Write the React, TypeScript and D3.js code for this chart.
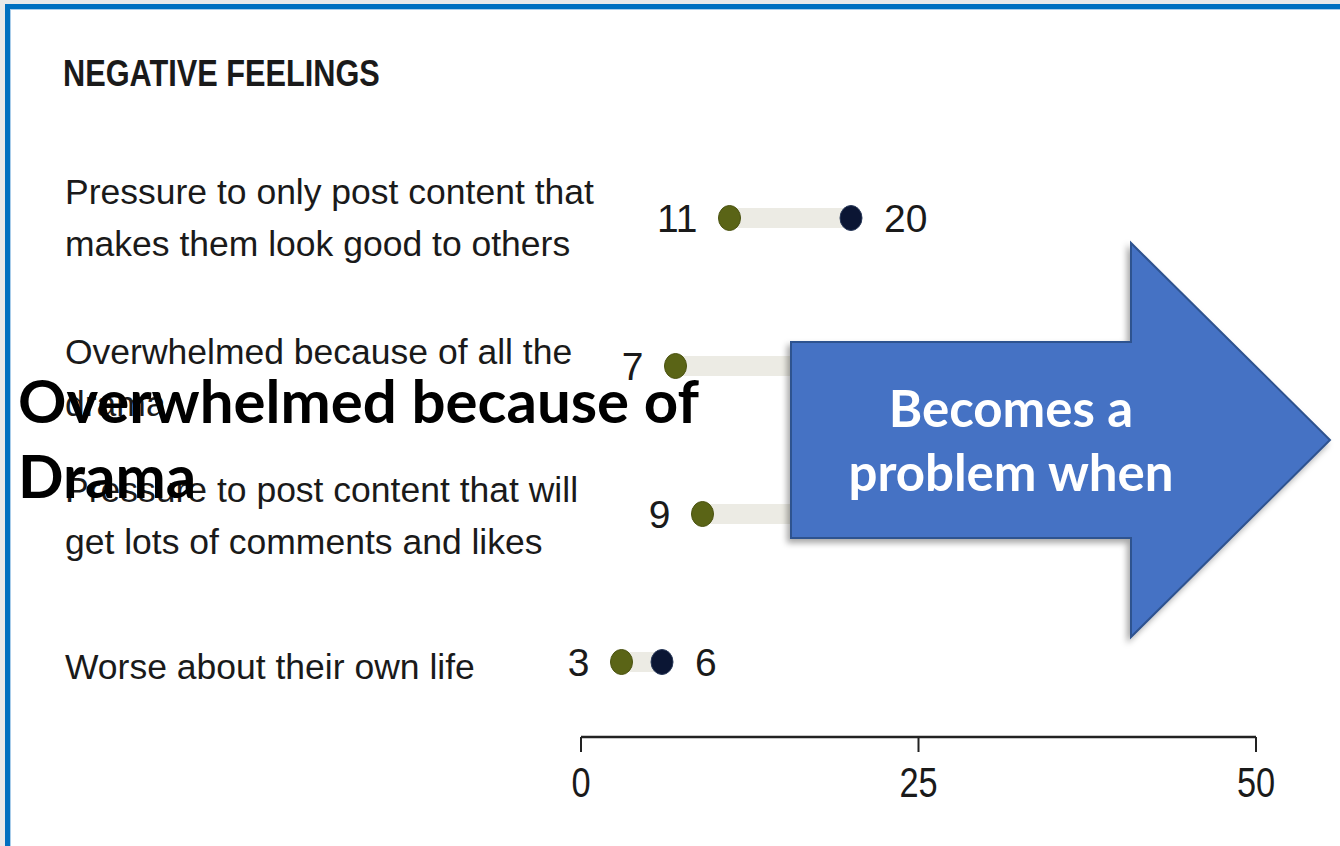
import React from "react";
import * as d3 from "d3";

const title = "NEGATIVE FEELINGS";
const categories = [
  ["Pressure to only post content that", "makes them look good to others"],
  ["Overwhelmed because of all the", "drama"],
  ["Pressure to post content that will", "get lots of comments and likes"],
  ["Worse about their own life"],
];
const seriesA = [11, 7, 9, 3];
const seriesB = [20, 24, 18, 6];
const tickValues = [0, 25, 50];
const overlayLines = ["Overwhelmed because of", "Drama"];
const arrowLines = ["Becomes a", "problem when"];

const W = 1340;
const H = 846;
const GREEN = "#5a6416";
const NAVY = "#0b1634";
const TRACK = "#ecebe4";
// small vertical nudges of the category labels relative to their row (layout only)
const LABEL_NUDGE = [0, 12, 2, 5];

export default function App() {
  const x = d3.scaleLinear().domain([0, 50]).range([581, 1256]);
  const y = d3
    .scalePoint<number>()
    .domain(categories.map((_, i) => i))
    .range([144, 736])
    .padding(0.5);

  const axisY = 737;
  const labelFont = "'Liberation Sans', Arial, sans-serif";

  // arrow geometry
  const ax0 = 791, axNeck = 1131, axTip = 1330;
  const acy = 440, bodyHalf = 98, headHalf = 197;
  const arrowPath = d3.path();
  arrowPath.moveTo(ax0, acy - bodyHalf);
  arrowPath.lineTo(axNeck, acy - bodyHalf);
  arrowPath.lineTo(axNeck, acy - headHalf);
  arrowPath.lineTo(axTip, acy);
  arrowPath.lineTo(axNeck, acy + headHalf);
  arrowPath.lineTo(axNeck, acy + bodyHalf);
  arrowPath.lineTo(ax0, acy + bodyHalf);
  arrowPath.closePath();

  return (
    <svg
      width={W}
      height={H}
      style={{ position: "absolute", left: 0, top: 0, background: "#fff" }}
    >
      <defs>
        <filter id="shadow" x="-10%" y="-10%" width="120%" height="130%">
          <feDropShadow dx="-3" dy="4" stdDeviation="3" floodColor="#000" floodOpacity="0.35" />
        </filter>
      </defs>
      {/* frame */}
      <rect x={0} y={0} width={W} height={4} fill="#e9e9e9" />
      <rect x={0} y={0} width={5} height={H} fill="#e9e9e9" />
      <rect x={5} y={4} width={W - 5} height={5} fill="#0070c0" />
      <rect x={5} y={4} width={5} height={H - 4} fill="#0070c0" />
      <rect x={10} y={9} width={W - 10} height={1} fill="#a9cdea" />
      <rect x={10} y={9} width={1} height={H - 9} fill="#a9cdea" />

      {/* title (condensed) */}
      <text
        transform="translate(63,86) scale(0.83,1)"
        fontFamily={labelFont}
        fontWeight="bold"
        fontSize={37}
        fill="#1a1a1a"
      >
        {title}
      </text>

      {/* rows */}
      {categories.map((lines, i) => {
        const cy = y(i)!;
        const n = lines.length;
        return (
          <g key={i}>
            {lines.map((ln, j) => (
              <text
                key={j}
                x={65}
                y={cy + (j - (n - 1) / 2) * 52 + 12 + LABEL_NUDGE[i]}
                fontFamily={labelFont}
                fontSize={35.5}
                fill="#1a1a1a"
              >
                {ln}
              </text>
            ))}
            <rect
              x={x(seriesA[i])}
              y={cy - 10}
              width={x(seriesB[i]) - x(seriesA[i])}
              height={20}
              fill={TRACK}
            />
            <ellipse cx={x(seriesA[i])} cy={cy} rx={11} ry={12.5} fill={GREEN} stroke="#4a5210" strokeWidth={1} />
            <ellipse cx={x(seriesB[i])} cy={cy} rx={11} ry={12.5} fill={NAVY} stroke="#2a3a5a" strokeWidth={1} />
            <text
              x={x(seriesA[i]) - 32}
              y={cy + 14}
              textAnchor="end"
              fontFamily={labelFont}
              fontSize={39}
              fill="#1a1a1a"
            >
              {seriesA[i]}
            </text>
            <text
              x={x(seriesB[i]) + 33}
              y={cy + 14}
              textAnchor="start"
              fontFamily={labelFont}
              fontSize={39}
              fill="#1a1a1a"
            >
              {seriesB[i]}
            </text>
          </g>
        );
      })}

      {/* axis */}
      <line x1={x(0)} x2={x(50)} y1={axisY} y2={axisY} stroke="#222" strokeWidth={2.5} />
      {tickValues.map((t) => (
        <g key={t}>
          <line x1={x(t)} x2={x(t)} y1={axisY} y2={axisY + 15} stroke="#222" strokeWidth={2} />
          <text
            transform={`translate(${x(t)},797) scale(0.8,1)`}
            textAnchor="middle"
            fontFamily={labelFont}
            fontSize={43}
            fill="#1a1a1a"
          >
            {t}
          </text>
        </g>
      ))}

      {/* overlay text */}
      {overlayLines.map((ln, i) => (
        <text
          key={i}
          x={18}
          y={423 + i * 75}
          fontFamily="Lato, 'Open Sans', sans-serif"
          fontWeight="bold"
          fontSize={60}
          fill="#000"
        >
          {ln}
        </text>
      ))}

      {/* arrow */}
      <path d={arrowPath.toString()} fill="#4472c4" stroke="#2f528f" strokeWidth={2} filter="url(#shadow)" />
      {arrowLines.map((ln, i) => (
        <text
          key={i}
          x={1011}
          y={427 + i * 64}
          textAnchor="middle"
          fontFamily="Lato, 'Open Sans', sans-serif"
          fontWeight="bold"
          fontSize={51}
          fill="#fff"
        >
          {ln}
        </text>
      ))}
    </svg>
  );
}
